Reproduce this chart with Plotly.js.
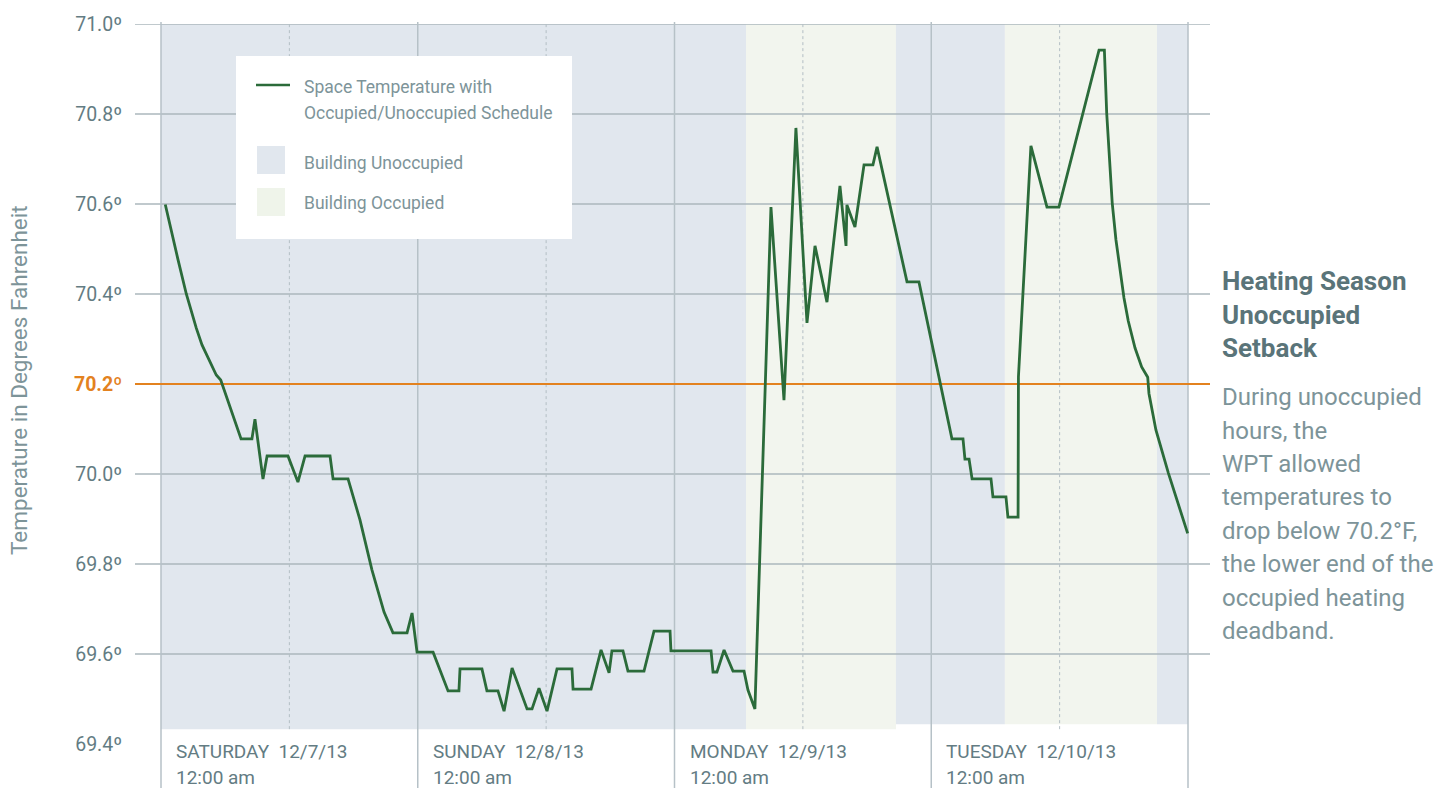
<!DOCTYPE html>
<html>
<head>
<meta charset="utf-8">
<script src="https://cdn.plot.ly/plotly-3.0.1.min.js"></script>
<style>
html,body{margin:0;padding:0;background:#fff;}
#chart{width:1455px;height:788px;}
</style>
</head>
<body>
<div id="chart"></div>
<script>
// ---- Data ----
const times = [
'2013-12-07 00:24','2013-12-07 00:54','2013-12-07 01:17','2013-12-07 01:35','2013-12-07 02:22',
'2013-12-07 02:50','2013-12-07 03:18','2013-12-07 03:50','2013-12-07 04:24','2013-12-07 04:48',
'2013-12-07 05:10','2013-12-07 05:35','2013-12-07 05:48',
'2013-12-07 07:29','2013-12-07 08:30','2013-12-07 08:47',
'2013-12-07 09:32','2013-12-07 09:55','2013-12-07 11:52','2013-12-07 12:48','2013-12-07 13:28',
'2013-12-07 15:48','2013-12-07 16:05','2013-12-07 17:29','2013-12-07 18:36','2013-12-07 19:43',
'2013-12-07 20:51','2013-12-07 21:41','2013-12-07 23:00','2013-12-07 23:28','2013-12-07 23:56',
'2013-12-08 01:26','2013-12-08 02:50','2013-12-08 03:51','2013-12-08 03:57','2013-12-08 06:00',
'2013-12-08 06:28','2013-12-08 07:30','2013-12-08 08:04','2013-12-08 08:49','2013-12-08 10:13',
'2013-12-08 10:41','2013-12-08 11:20','2013-12-08 12:05','2013-12-08 13:01','2013-12-08 14:25',
'2013-12-08 14:31','2013-12-08 16:12','2013-12-08 17:08','2013-12-08 17:53','2013-12-08 18:09',
'2013-12-08 19:11','2013-12-08 19:39','2013-12-08 21:09','2013-12-08 22:05','2013-12-08 23:35',
'2013-12-08 23:40','2013-12-09 03:25','2013-12-09 03:36','2013-12-09 03:58','2013-12-09 04:38',
'2013-12-09 05:28','2013-12-09 06:30','2013-12-09 06:52','2013-12-09 07:31','2013-12-09 09:01',
'2013-12-09 10:14','2013-12-09 11:21','2013-12-09 12:23','2013-12-09 13:08','2013-12-09 14:15',
'2013-12-09 15:28','2013-12-09 16:02','2013-12-09 16:07','2013-12-09 16:52','2013-12-09 17:43',
'2013-12-09 18:33','2013-12-09 18:56','2013-12-09 21:44','2013-12-09 22:51','2013-12-10 01:56',
'2013-12-10 02:58','2013-12-10 03:09','2013-12-10 03:32','2013-12-10 03:49','2013-12-10 05:35',
'2013-12-10 05:46','2013-12-10 06:59','2013-12-10 07:10','2013-12-10 08:07','2013-12-10 08:09',
'2013-12-10 09:19','2013-12-10 10:49','2013-12-10 11:56','2013-12-10 15:41','2013-12-10 16:11',
'2013-12-10 16:24','2013-12-10 16:39','2013-12-10 16:55','2013-12-10 17:16','2013-12-10 17:39',
'2013-12-10 18:01','2013-12-10 18:25','2013-12-10 19:03','2013-12-10 19:40','2013-12-10 20:14',
'2013-12-10 20:21','2013-12-10 21:00','2013-12-10 22:10','2013-12-10 23:05','2013-12-10 23:58'
];
const temps = [
70.599,70.546,70.509,70.477,70.400,
70.361,70.324,70.287,70.257,70.237,
70.220,70.209,70.194,
70.078,70.078,70.122,
69.989,70.040,70.040,69.982,70.040,
70.040,69.989,69.989,69.898,69.787,
69.693,69.647,69.647,69.691,69.604,
69.604,69.518,69.518,69.567,69.567,
69.518,69.518,69.473,69.569,69.478,
69.478,69.524,69.473,69.567,69.567,
69.522,69.522,69.609,69.558,69.607,
69.607,69.562,69.562,69.651,69.651,
69.607,69.607,69.560,69.560,69.609,
69.562,69.562,69.520,69.478,70.593,
70.164,70.769,70.336,70.507,70.382,
70.640,70.507,70.598,70.549,70.687,
70.687,70.727,70.427,70.427,70.078,
70.078,70.033,70.033,69.989,69.989,
69.949,69.949,69.904,69.904,70.216,
70.729,70.593,70.593,70.942,70.942,
70.802,70.705,70.602,70.520,70.453,
70.391,70.340,70.280,70.238,70.215,
70.179,70.098,70.002,69.935,69.868
];
const schedStart = ['2013-12-07 00:00','2013-12-09 06:41','2013-12-09 20:42','2013-12-10 06:53','2013-12-10 21:06'];
const schedEnd   = ['2013-12-09 06:41','2013-12-09 20:42','2013-12-10 06:53','2013-12-10 21:06','2013-12-11 00:00'];
const schedState = ['Unoccupied','Occupied','Unoccupied','Occupied','Unoccupied'];
const dayStarts = ['2013-12-07 00:00','2013-12-08 00:00','2013-12-09 00:00','2013-12-10 00:00','2013-12-11 00:00'];
const dayNoons  = ['2013-12-07 12:00','2013-12-08 12:00','2013-12-09 12:00','2013-12-10 12:00'];
const dayLabels = ['SATURDAY\u00a0\u00a012/7/13','SUNDAY\u00a0\u00a012/8/13','MONDAY\u00a0\u00a012/9/13','TUESDAY\u00a0\u00a012/10/13'];
const timeLabel = '12:00 am';
const yTicks = [69.4,69.6,69.8,70.0,70.2,70.4,70.6,70.8,71.0];
const setpoint = 70.2;
const legendLabels = ['Space Temperature with','Occupied/Unoccupied Schedule','Building Unoccupied','Building Occupied'];
const noteTitle = ['Heating Season','Unoccupied','Setback'];
const noteBody = ['During unoccupied','hours, the','WPT allowed','temperatures to','drop below 70.2°F,','the lower end of the','occupied heating','deadband.'];

// ---- Layout helpers ----
const W = 1455, H = 788;
const L = 135, R = 1210, T = 24, B = 744;
const YMIN = 69.4, YMAX = 71.0;
const px = x => (x - L) / (R - L);
const py = y => (B - y) / (B - T);
const vy = v => (v - YMIN) / (YMAX - YMIN);

const FONT = 'Roboto, "DejaVu Sans Condensed", sans-serif';
const C_TICK = '#637c83', C_SOFT = '#7d9499', C_TITLE = '#5a7479';
const C_UNOCC = '#e1e7ee', C_OCC = '#f2f5ee';
const C_GRID = '#abb7bd', C_ORANGE = '#e3821f', C_GREEN = '#2b6b3a';

const shapes = [];
// shading
schedStart.forEach((s, i) => {
  shapes.push({type:'rect', xref:'x', yref:'paper', x0:s, x1:schedEnd[i],
    y0: vy(i < 2 ? 69.433 : 69.444), y1: 1, fillcolor: schedState[i]==='Occupied'?C_OCC:C_UNOCC,
    line:{width:0}, layer:'below'});
});
// horizontal gridlines
yTicks.filter(v => v > YMIN + 1e-9 && Math.abs(v - setpoint) > 1e-9).forEach(v => {
  shapes.push({type:'line', xref:'paper', yref:'y', x0:0, x1:1, y0:v, y1:v,
    line:{color:C_GRID, width:1.5}, layer:'below'});
});
// noon dotted lines
dayNoons.forEach(d => {
  shapes.push({type:'line', xref:'x', yref:'paper', x0:d, x1:d, y0:vy(69.433), y1:1,
    line:{color:'#b3bec4', width:1, dash:'dot'}, layer:'below'});
});
// day lines
dayStarts.forEach(d => {
  shapes.push({type:'line', xref:'x', yref:'paper', x0:d, x1:d, y0:py(H+2), y1:py(22),
    line:{color:'#b6c1c7', width:1.5}, layer:'below'});
});
// setpoint line
shapes.push({type:'line', xref:'paper', yref:'y', x0:0, x1:1, y0:setpoint, y1:setpoint,
  line:{color:C_ORANGE, width:2}, layer:'below'});
// legend box
shapes.push({type:'rect', xref:'paper', yref:'paper', x0:px(236), x1:px(572), y0:py(239), y1:py(56),
  fillcolor:'#ffffff', line:{width:0}, layer:'above'});
shapes.push({type:'line', xref:'paper', yref:'paper', x0:px(256), x1:px(290), y0:py(85), y1:py(85),
  line:{color:C_GREEN, width:2.5}, layer:'above'});
shapes.push({type:'rect', xref:'paper', yref:'paper', x0:px(257), x1:px(285), y0:py(174), y1:py(146),
  fillcolor:C_UNOCC, line:{width:0}, layer:'above'});
shapes.push({type:'rect', xref:'paper', yref:'paper', x0:px(257), x1:px(285), y0:py(216), y1:py(188),
  fillcolor:'#eff4ea', line:{width:0}, layer:'above'});

const ann = [];
const addText = (text, x, y, size, color, opts) => {
  ann.push(Object.assign({text, xref:'paper', yref:'paper', x:px(x), y:py(y), xanchor:'left', yanchor:'middle',
    showarrow:false, font:{family:FONT, size, color}}, opts || {}));
};
// legend text
addText(legendLabels[0], 302, 87, 17.5, C_SOFT);
addText(legendLabels[1], 302, 113, 17.5, C_SOFT);
addText(legendLabels[2], 302, 163, 17.5, C_SOFT);
addText(legendLabels[3], 302, 203, 17.5, C_SOFT);
// y title
addText('Temperature in Degrees Fahrenheit', 19, 380, 22.5, C_SOFT, {xanchor:'center', textangle:-90});
// day labels
dayLabels.forEach((lab, i) => {
  ann.push({text: lab, xref:'x', yref:'paper', x: dayStarts[i], y: py(751), xanchor:'left', yanchor:'middle',
    xshift: 13, showarrow:false, font:{family:FONT, size:19, color:C_TICK}});
  ann.push({text: timeLabel, xref:'x', yref:'paper', x: dayStarts[i], y: py(777), xanchor:'left', yanchor:'middle',
    xshift: 13, showarrow:false, font:{family:FONT, size:19, color:C_TICK}});
});
// note
noteTitle.forEach((t, i) => addText('<b>' + t + '</b>', 1220, [281, 315, 348][i], 26, C_TITLE));
const bodyY = [397, 431, 464, 497, 531, 564, 598, 631];
noteBody.forEach((t, i) => addText(t, 1220, bodyY[i], 24, C_SOFT));

const trace = {
  x: times, y: temps, type:'scatter', mode:'lines',
  line:{color:C_GREEN, width:2.8}, hoverinfo:'x+y', showlegend:false
};

const layout = {
  width: W, height: H,
  margin:{l:L, r:W-R, t:T, b:H-B, pad:0},
  paper_bgcolor:'#ffffff', plot_bgcolor:'rgba(0,0,0,0)',
  showlegend:false,
  xaxis:{type:'date', range:['2013-12-06 21:34:11','2013-12-11 02:03:22'], visible:false, fixedrange:true},
  yaxis:{range:[YMIN, YMAX], tickvals:yTicks,
    ticktext: yTicks.map(v => Math.abs(v - setpoint) < 1e-9
      ? '<span style="color:' + C_ORANGE + '"><b>' + v.toFixed(1) + 'º</b></span>'
      : v.toFixed(1) + 'º'),
    showgrid:false, zeroline:false, showline:false,
    ticks:'outside', ticklen:8, tickcolor:'rgba(0,0,0,0)',
    tickfont:{family:FONT, size:19.5, color:C_TICK}, fixedrange:true},
  shapes, annotations: ann
};

Plotly.newPlot('chart', [trace], layout, {displayModeBar:false, staticPlot:true});
</script>
</body>
</html>
